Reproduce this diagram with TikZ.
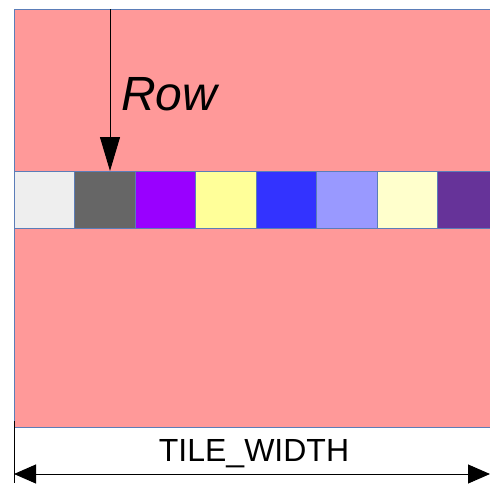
\documentclass[tikz,border=0pt]{standalone}
\usepackage{fontspec}
\setmainfont{Liberation Sans}
\usetikzlibrary{arrows.meta}
\definecolor{tilepink}{HTML}{FF9999}
\definecolor{cellborder}{HTML}{5B7DB8}
\tikzset{
  cell/.style={draw=cellborder, line width=0.8pt, minimum width=60.5pt, minimum height=57pt, inner sep=0pt, outer sep=0pt, anchor=north west},
  dimarrow/.style={line width=1pt, {Triangle[length=22pt,width=19pt]}-{Triangle[length=22pt,width=19pt]}},
  rowarrow/.style={line width=1pt, -{Triangle[length=34pt,width=20pt]}}
}
\begin{document}
\begin{tikzpicture}[x=1pt,y=-1pt]
  \useasboundingbox (0,0) rectangle (490,483);
  % tile area
  \fill[tilepink] (14,9) rectangle (490,427);
  \draw[cellborder, line width=0.8pt] (490,9) -- (14,9) -- (14,427) -- (490,427);
  % row of cells
  \node[cell, fill={rgb,255:red,238;green,238;blue,238}] (c1) at (14,171) {};
  \node[cell, fill={rgb,255:red,102;green,102;blue,102}] (c2) at (74.5,171) {};
  \node[cell, fill={rgb,255:red,153;green,0;blue,255}]   (c3) at (135,171) {};
  \node[cell, fill={rgb,255:red,255;green,255;blue,153}] (c4) at (195.5,171) {};
  \node[cell, fill={rgb,255:red,51;green,51;blue,255}]   (c5) at (256,171) {};
  \node[cell, fill={rgb,255:red,153;green,153;blue,255}] (c6) at (316.5,171) {};
  \node[cell, fill={rgb,255:red,255;green,255;blue,204}] (c7) at (377,171) {};
  \node[cell, fill={rgb,255:red,102;green,51;blue,153}]  (c8) at (437.5,171) {};
  % row pointer
  \coordinate (rowtop) at (110,9);
  \coordinate (rowtip) at (110,171);
  \draw[rowarrow] (rowtop) -- (rowtip);
  \node[anchor=base west, inner sep=0pt, font=\fontsize{48}{52}\selectfont\itshape] (rowlabel) at (121,110) {Row};
  % width dimension
  \coordinate (extl) at (14,421);
  \coordinate (extlb) at (14,483);
  \draw[line width=1pt] (extl) -- (extlb);
  \coordinate (dl) at (14,474);
  \coordinate (dr) at (490,474);
  \draw[dimarrow] (dl) -- (dr);
  \node[anchor=base, inner sep=0pt, font=\fontsize{32}{35}\selectfont] (width) at (254,461) {TILE\_WIDTH};
\end{tikzpicture}
\end{document}
